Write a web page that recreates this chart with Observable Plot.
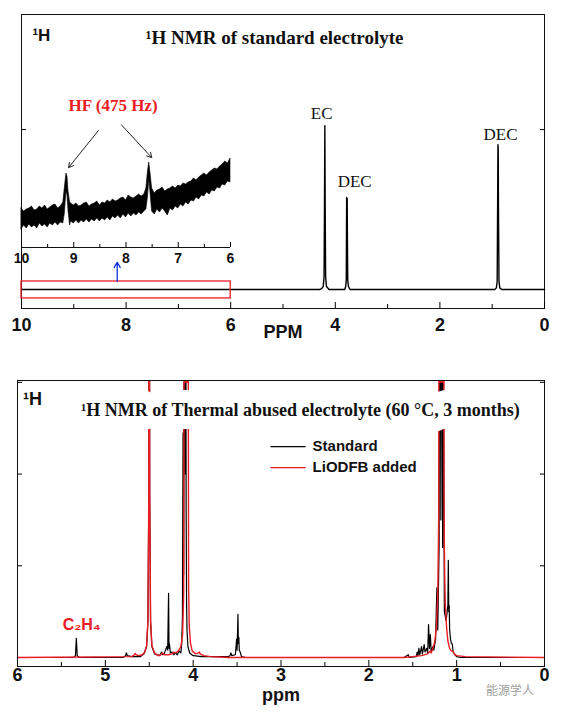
<!DOCTYPE html>
<html><head><meta charset="utf-8">
<script src="https://cdn.jsdelivr.net/npm/d3@7"></script>
<script src="https://cdn.jsdelivr.net/npm/@observablehq/plot@0.6"></script>
<style>
body{margin:0;background:#fff;}
#wrap{position:relative;width:568px;height:714px;overflow:hidden;}
#top,#inset,#bottom{position:absolute;left:0;}
#top{top:0}
#inset{top:140px}
#bottom{top:345px}
#wm{position:absolute;left:486px;top:681px;font-family:"Noto Sans CJK SC";color:#a0a0a0;font-size:12px;}
</style></head>
<body><div id="wrap"><div id="top"></div><div id="inset"></div><div id="bottom"></div><div id="wm">能源学人</div></div>
<script>
const fontSans = "Liberation Sans, Arial, sans-serif";
const fontSerif = "Liberation Serif, Times New Roman, serif";
const RED = "#ec1c24";

// ---------------- Top panel: standard electrolyte ----------------
const topPpm = [10, 4.30, 4.26, 4.23, 4.215, 4.207, 4.2, 4.193, 4.185, 4.17, 4.12, 3.82, 3.80, 3.79, 3.783, 3.778, 3.773, 3.768, 3.762, 3.75, 3.72, 0.95, 0.92, 0.905, 0.895, 0.89, 0.885, 0.88, 0.87, 0.855, 0.82, 0];
const topInt = [0, 0, 0.005, 0.02, 0.08, 0.5, 1.025, 0.5, 0.08, 0.02, 0, 0, 0.02, 0.06, 0.575, 0.2, 0.57, 0.3, 0.06, 0.02, 0, 0, 0.01, 0.05, 0.6, 0.906, 0.88, 0.5, 0.05, 0.01, 0, 0];
const topMajorTicks = [10, 8, 6, 4, 2, 0];
const topMinorTicks = [9, 7, 5, 3, 1];
const topYTicks = [0, 1];
const topPeakLabels = ["EC", "DEC", "DEC"];
const topPeakLabelPpm = [4.26, 3.63, 0.84];
const topPeakLabelInt = [1.10, 0.675, 0.97];
const zoomBoxPpm = [10, 6];
const zoomBoxInt = [-0.056, 0.05];
const blueArrowPpm = [8.17];
const blueArrowInt = [0.05, 0.17];
const hfLabel = ["HF (475 Hz)"];
const hfLabelPos = [8.25, 1.15];
const hfArrowFromPpm = [8.53, 8.09];
const hfArrowFromInt = [0.994, 1.03];
const hfArrowToPpm = [9.10, 7.51];
const hfArrowToInt = [0.7625, 0.825];
const topTitle = ["¹H NMR of standard electrolyte"];
const topTitlePos = [5.16, 1.575];
const nucleusLabel = ["¹H"];
const topNucleusPos = [9.62, 1.59];

// ---------------- Inset: 10–6 ppm zoom (noisy band: lower / upper edge) ----------------
const insetPpm  = [10.00, 9.95, 9.90, 9.85, 9.80, 9.75, 9.70, 9.65, 9.60, 9.55, 9.50, 9.45, 9.40, 9.35, 9.30, 9.25, 9.20, 9.17, 9.14, 9.12, 9.10, 9.07, 9.05, 9.00, 8.95, 8.90, 8.85, 8.80, 8.75, 8.70, 8.65, 8.60, 8.55, 8.50, 8.45, 8.40, 8.35, 8.30, 8.25, 8.20, 8.15, 8.10, 8.05, 8.00, 7.95, 7.90, 7.85, 7.80, 7.75, 7.70, 7.65, 7.61, 7.58, 7.555, 7.53, 7.50, 7.45, 7.40, 7.35, 7.30, 7.25, 7.20, 7.15, 7.10, 7.05, 7.00, 6.95, 6.90, 6.85, 6.80, 6.75, 6.70, 6.65, 6.60, 6.55, 6.50, 6.45, 6.40, 6.35, 6.30, 6.25, 6.20, 6.15, 6.10, 6.05, 6.00];
const insetLow  = [1.8, 2.2, 1.9, 2.3, 2.0, 2.2, 1.9, 2.4, 2.1, 2.3, 2.0, 2.4, 2.2, 2.5, 2.2, 2.5, 2.4, 3.4, 5.6, 5.2, 3.6, 2.2, 2.6, 2.4, 2.7, 2.4, 2.7, 2.5, 2.8, 2.5, 2.8, 2.6, 2.9, 2.6, 2.9, 2.7, 3.0, 2.7, 3.1, 2.9, 3.2, 2.9, 3.3, 3.0, 3.4, 3.1, 3.4, 3.2, 3.5, 3.3, 3.6, 3.8, 5.0, 6.8, 5.4, 3.6, 3.3, 3.8, 3.5, 3.9, 3.6, 3.2, 3.9, 3.7, 4.1, 3.9, 4.3, 4.1, 4.5, 4.3, 4.7, 4.6, 5.0, 4.8, 5.2, 5.1, 5.5, 5.3, 5.7, 5.6, 6.0, 5.9, 6.3, 6.2, 6.6, 6.5];
const insetHigh = [3.9, 3.6, 3.8, 3.9, 4.1, 3.7, 3.8, 4.1, 3.9, 4.2, 3.8, 4.0, 4.2, 4.3, 3.9, 4.1, 4.5, 6.0, 7.4, 7.1, 5.6, 4.5, 4.4, 4.2, 4.4, 4.1, 4.2, 4.4, 4.5, 4.1, 4.3, 4.4, 4.6, 4.2, 4.5, 4.4, 4.7, 4.5, 4.8, 4.6, 4.7, 4.9, 5.0, 4.7, 5.2, 5.0, 4.9, 5.1, 5.3, 5.1, 5.3, 5.9, 7.6, 8.5, 7.4, 5.9, 5.4, 5.7, 5.8, 6.0, 5.6, 5.8, 5.9, 6.1, 5.9, 6.2, 6.1, 6.4, 6.3, 6.5, 6.6, 6.9, 6.7, 7.0, 7.2, 7.4, 7.2, 7.5, 7.7, 7.9, 7.8, 8.1, 8.3, 8.6, 8.4, 8.9];
const insetMajorTicks = [10, 9, 8, 7, 6];
const insetMinorTicks = [9.5, 8.5, 7.5, 6.5];

// ---------------- Bottom panel: thermally abused electrolyte ----------------
const standardSpectrum = [
  [6.0,0],[5.36,0],[5.34,0.02],[5.33,0.21],[5.32,0.02],[5.30,0],[4.80,0],[4.77,0.02],[4.76,0.05],[4.75,0.02],[4.70,0.01],[4.60,0.01],
  [4.56,0.04],[4.53,0.12],[4.515,0.4],[4.505,1.8],[4.50,6],[4.495,1.8],[4.485,0.4],[4.47,0.12],[4.44,0.04],[4.38,0.02],[4.36,0.06],
  [4.35,0.03],[4.33,0.04],[4.30,0.12],[4.29,0.08],[4.28,0.7],[4.275,0.1],[4.27,0.15],[4.26,0.05],[4.24,0.06],[4.22,0.03],[4.20,0.05],
  [4.18,0.03],[4.16,0.07],[4.14,0.05],[4.13,0.15],[4.122,0.45],[4.115,2.45],[4.108,0.9],[4.10,5],[4.09,2],[4.085,5],[4.08,1.6],
  [4.075,0.6],[4.07,0.3],[4.06,0.12],[4.04,0.05],[4.0,0.02],[3.90,0.01],[3.60,0.01],[3.58,0.02],[3.57,0.05],[3.56,0.02],[3.52,0.03],
  [3.505,0.2],[3.50,0.08],[3.49,0.47],[3.485,0.15],[3.48,0.22],[3.475,0.08],[3.465,0.06],[3.45,0.01],[3.40,0],[1.60,0],[1.55,0.03],
  [1.54,0],[1.46,0.01],[1.45,0.06],[1.44,0.02],[1.43,0.1],[1.42,0.03],[1.40,0.12],[1.39,0.04],[1.37,0.14],[1.36,0.06],[1.34,0.1],
  [1.33,0.05],[1.32,0.36],[1.31,0.1],[1.30,0.25],[1.29,0.06],[1.27,0.12],[1.26,0.08],[1.24,0.2],[1.225,0.76],[1.215,0.3],[1.20,1.2],
  [1.19,6],[1.18,1.5],[1.17,6],[1.16,1.2],[1.15,3],[1.14,0.5],[1.12,0.4],[1.10,0.57],[1.095,1.06],[1.09,0.5],[1.085,0.57],[1.08,0.3],
  [1.07,0.2],[1.06,0.15],[1.05,0.15],[1.04,0.06],[1.02,0.03],[1.0,0.01],[0.95,0],[0,0]
];
const lodfbSpectrum = [
  [6.0,0],[4.70,0.01],[4.67,0.03],[4.66,0.045],[4.65,0.03],[4.62,0.02],[4.58,0.03],[4.55,0.06],[4.53,0.13],[4.515,0.4],[4.505,1.8],
  [4.50,6],[4.495,1.8],[4.485,0.4],[4.47,0.13],[4.44,0.05],[4.40,0.02],[4.37,0.03],[4.35,0.05],[4.33,0.03],[4.28,0.03],[4.24,0.04],
  [4.22,0.06],[4.20,0.05],[4.17,0.07],[4.14,0.12],[4.12,0.25],[4.108,0.7],[4.098,6],[4.092,3],[4.085,6],[4.078,3],[4.072,6],[4.066,3],
  [4.06,6],[4.052,0.8],[4.045,0.35],[4.03,0.15],[4.01,0.07],[3.97,0.04],[3.94,0.05],[3.93,0.06],[3.92,0.04],[3.88,0.02],[3.80,0.01],
  [3.60,0],[1.60,0],[1.50,0.01],[1.40,0.02],[1.33,0.04],[1.30,0.07],[1.29,0.05],[1.27,0.1],[1.25,0.17],[1.23,0.33],[1.215,0.7],
  [1.205,1.5],[1.198,6],[1.19,3],[1.182,6],[1.174,3],[1.166,6],[1.158,3],[1.15,6],[1.143,1.5],[1.137,0.95],[1.13,0.6],[1.115,0.33],
  [1.10,0.18],[1.08,0.1],[1.06,0.07],[1.04,0.07],[1.03,0.04],[1.0,0.02],[0.9,0.01],[0,0]
];
const bottomMajorTicks = [6, 5, 4, 3, 2, 1, 0];
const bottomMinorTicks = [5.5, 4.5, 3.5, 2.5, 1.5, 0.5];
const bottomYTicks = [0, 1, 2, 3];
const bottomTitle = ["¹H NMR of Thermal abused electrolyte (60 °C, 3 months)"];
const bottomTitlePos = [2.78, 2.70];
const bottomNucleusPos = [5.83, 2.82];
const legendNames = ["Standard", "LiODFB added"];
const legendColors = ["black", RED];
const legendInt = [2.30, 2.07];
const legendLinePpm = [3.12, 2.72];
const legendTextPpm = 2.64;
const c2h4Label = ["C₂H₄"];
const c2h4Pos = [5.27, 0.36];

const blank = () => "";
const intFmt = d => String(d);

// ---------- build top plot ----------
const topData = topPpm.map((p, i) => ({ppm: p, v: topInt[i]}));
const topPlot = Plot.plot({
  width: 568, height: 345,
  marginLeft: 21, marginRight: 24, marginTop: 14, marginBottom: 37,
  x: {domain: [10, 0], label: null},
  y: {domain: [-0.119, 1.72], label: null},
  style: {background: "transparent", overflow: "visible"},
  marks: [
    Plot.frame({stroke: "#111", strokeWidth: 1}),
    Plot.axisX({ticks: topMajorTicks, tickSize: -6, tickFormat: blank}),
    Plot.axisX({ticks: topMinorTicks, tickSize: -4, tickFormat: blank}),
    Plot.axisX({ticks: topMajorTicks, tickSize: 0, tickPadding: 10, tickFormat: intFmt, fontSize: 18, fontWeight: "bold", fontFamily: fontSans, fill: "#111"}),
    Plot.axisY({anchor: "left", ticks: topYTicks, tickSize: -5, tickFormat: blank}),
    Plot.axisY({anchor: "right", ticks: topYTicks, tickSize: -5, tickFormat: blank}),
    Plot.text(["PPM"], {frameAnchor: "bottom", dy: 29, fontSize: 18, fontWeight: "bold", fontFamily: fontSans, fill: "#111"}),
    Plot.line(topData, {x: "ppm", y: "v", stroke: "black", strokeWidth: 1.4}),
    Plot.rect([0], {x1: () => zoomBoxPpm[0], x2: () => zoomBoxPpm[1], y1: () => zoomBoxInt[0], y2: () => zoomBoxInt[1], stroke: RED, strokeWidth: 1.3, fill: "none"}),
    Plot.arrow([0], {x1: () => blueArrowPpm[0], x2: () => blueArrowPpm[0], y1: () => blueArrowInt[0], y2: () => blueArrowInt[1], stroke: "#1030e0", strokeWidth: 1.3, headLength: 7}),
    Plot.arrow(hfArrowFromPpm, {x1: (d, i) => hfArrowFromPpm[i], y1: (d, i) => hfArrowFromInt[i], x2: (d, i) => hfArrowToPpm[i], y2: (d, i) => hfArrowToInt[i], stroke: "#222", strokeWidth: 1, headLength: 8}),
    Plot.text(hfLabel, {x: () => hfLabelPos[0], y: () => hfLabelPos[1], fill: RED, fontSize: 17, fontWeight: "bold", fontFamily: fontSerif}),
    Plot.text(topPeakLabels, {x: (d, i) => topPeakLabelPpm[i], y: (d, i) => topPeakLabelInt[i], fill: "#111", fontSize: 17, fontFamily: fontSerif}),
    Plot.text(topTitle, {x: () => topTitlePos[0], y: () => topTitlePos[1], fill: "#111", fontSize: 19, fontWeight: "bold", fontFamily: fontSerif}),
    Plot.text(nucleusLabel, {x: () => topNucleusPos[0], y: () => topNucleusPos[1], fill: "#111", fontSize: 17, fontWeight: "bold", fontFamily: fontSans})
  ]
});
document.getElementById("top").append(topPlot);

// ---------- build inset ----------
const insetData = insetPpm.map((p, i) => ({ppm: p, lo: insetLow[i], hi: insetHigh[i]}));
const insetPlot = Plot.plot({
  width: 250, height: 140,
  marginLeft: 21, marginRight: 20, marginTop: 0, marginBottom: 33,
  x: {domain: [10, 6], label: null},
  y: {domain: [0, 10.7], label: null, axis: null},
  style: {background: "transparent", overflow: "visible"},
  marks: [
    Plot.areaY(insetData, {x: "ppm", y1: "lo", y2: "hi", fill: "black", stroke: "black", strokeWidth: 0.6}),
    Plot.ruleY([0], {stroke: "#111", strokeWidth: 1}),
    Plot.axisX({ticks: insetMajorTicks, tickSize: -5, tickFormat: blank}),
    Plot.axisX({ticks: insetMinorTicks, tickSize: -3, tickFormat: blank}),
    Plot.axisX({ticks: insetMajorTicks, tickSize: 0, tickPadding: 6, tickFormat: intFmt, fontSize: 14, fontWeight: "bold", fontFamily: fontSans, fill: "#111"})
  ]
});
document.getElementById("inset").append(insetPlot);

// ---------- build bottom plot ----------
const stdData = standardSpectrum.map(([p, v]) => ({ppm: p, v}));
const lodData = lodfbSpectrum.map(([p, v]) => ({ppm: p, v}));
const bottomPlot = Plot.plot({
  width: 568, height: 369,
  marginLeft: 17, marginRight: 24, marginTop: 35, marginBottom: 48,
  x: {domain: [6, 0], label: null},
  y: {domain: [-0.098, 3.02], label: null},
  style: {background: "transparent", overflow: "visible"},
  marks: [
    Plot.axisX({ticks: bottomMajorTicks, tickSize: -6, tickFormat: blank}),
    Plot.axisX({ticks: bottomMinorTicks, tickSize: -4, tickFormat: blank}),
    Plot.axisX({ticks: bottomMajorTicks, tickSize: 0, tickPadding: 2, tickFormat: intFmt, fontSize: 18, fontWeight: "bold", fontFamily: fontSans, fill: "#111"}),
    Plot.axisY({anchor: "left", ticks: bottomYTicks, tickSize: -5, tickFormat: blank}),
    Plot.axisY({anchor: "right", ticks: bottomYTicks, tickSize: -5, tickFormat: blank}),
    Plot.text(["ppm"], {frameAnchor: "bottom", dy: 34, fontSize: 18, fontWeight: "bold", fontFamily: fontSans, fill: "#111"}),
    Plot.line(stdData, {x: "ppm", y: "v", stroke: "black", strokeWidth: 1.2, clip: "frame"}),
    Plot.line(lodData, {x: "ppm", y: "v", stroke: RED, strokeWidth: 1.4, clip: "frame"}),
    Plot.text(bottomTitle, {x: () => bottomTitlePos[0], y: () => bottomTitlePos[1], fill: "#111", stroke: "white", strokeWidth: 26, fontSize: 18, fontWeight: "bold", fontFamily: fontSerif}),
    Plot.text(nucleusLabel, {x: () => bottomNucleusPos[0], y: () => bottomNucleusPos[1], fill: "#111", fontSize: 18, fontWeight: "bold", fontFamily: fontSans}),
    Plot.link(legendNames, {x1: () => legendLinePpm[0], x2: () => legendLinePpm[1], y1: (d, i) => legendInt[i], y2: (d, i) => legendInt[i], stroke: (d, i) => legendColors[i], strokeWidth: 1.3}),
    Plot.text(legendNames, {x: () => legendTextPpm, y: (d, i) => legendInt[i], textAnchor: "start", fill: "#111", fontSize: 15, fontWeight: "bold", fontFamily: fontSans}),
    Plot.text(c2h4Label, {x: () => c2h4Pos[0], y: () => c2h4Pos[1], fill: RED, fontSize: 16, fontWeight: "bold", fontFamily: fontSans}),
    Plot.frame({stroke: "#111", strokeWidth: 1})
  ]
});
document.getElementById("bottom").append(bottomPlot);
</script>
</body></html>
